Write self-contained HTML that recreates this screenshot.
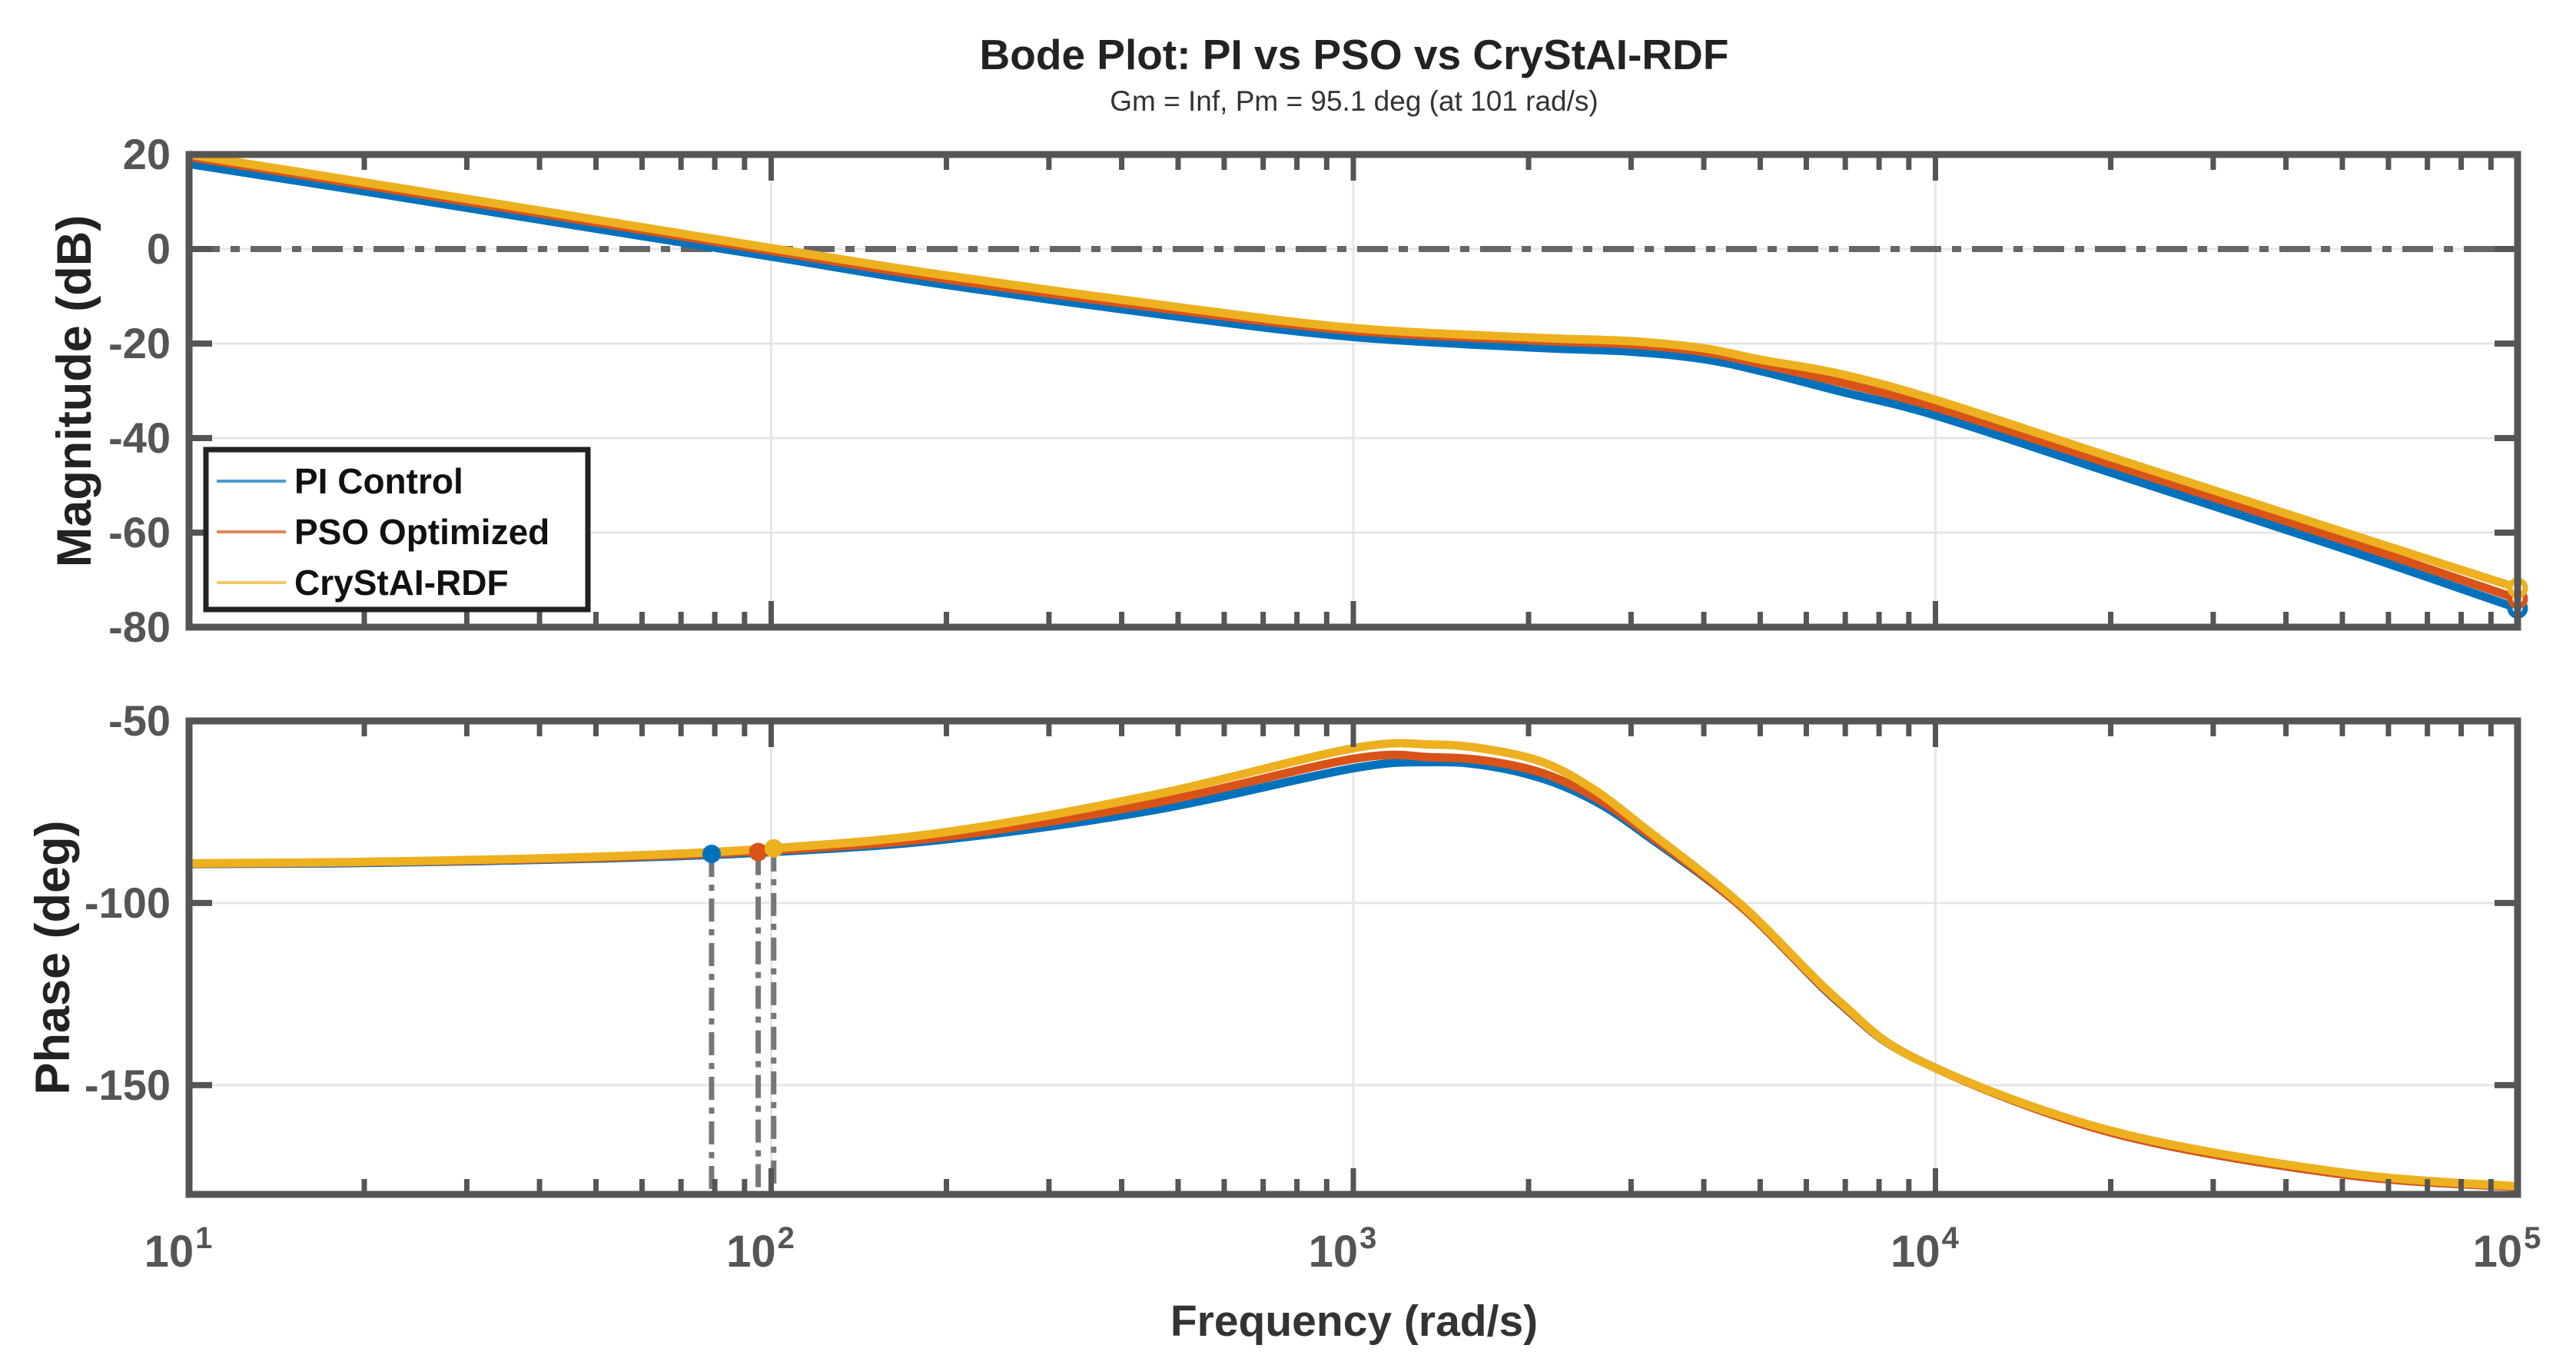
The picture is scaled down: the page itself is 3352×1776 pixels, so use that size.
<!DOCTYPE html>
<html><head><meta charset="utf-8">
<style>
html,body{margin:0;padding:0;background:#fff;}
svg{display:block;font-family:"Liberation Sans",sans-serif;}
.tk{font-family:"Liberation Sans Narrow","Liberation Sans",sans-serif;font-weight:bold;fill:#555;}
</style></head>
<body>
<svg id="chart" width="3352" height="1776" viewBox="0 0 3352 1776" xmlns="http://www.w3.org/2000/svg">
<rect width="3352" height="1776" fill="#fff"/>
<text x="1762" y="90" text-anchor="middle" font-size="55" font-weight="bold" fill="#222">Bode Plot: PI vs PSO vs CryStAI-RDF</text>
<text x="1762" y="144" text-anchor="middle" font-size="37" fill="#333">Gm = Inf,  Pm = 95.1 deg (at 101 rad/s)</text>
<g id="mag"></g>
<g id="phase"></g>
<text transform="translate(118,509) rotate(-90)" text-anchor="middle" font-size="63" font-weight="bold" fill="#222">Magnitude (dB)</text>
<text transform="translate(90,1246) rotate(-90)" text-anchor="middle" font-size="63" font-weight="bold" fill="#222">Phase (deg)</text>
<text x="1762" y="1738" text-anchor="middle" font-size="57" font-weight="bold" fill="#333">Frequency (rad/s)</text>
</svg>
<script>
const freqs = [10,20,50,100,200,500,1000,2000,3000,4000,5000,6900,10000,20000,50000,100000];
const magPI  = [18,12.2,4.3,-1.6,-7.6,-14.3,-18.6,-20.8,-21.7,-23.3,-25.8,-30.2,-35.2,-47.3,-63.3,-76];
const magPSO = [19.5,13.5,5.6,-0.4,-6.4,-13.0,-17.3,-19.3,-20.2,-21.8,-24.3,-28.3,-33.5,-45.5,-61.5,-74];
const magCRY = [20,14.1,6.2,0.2,-5.6,-12.3,-16.7,-18.7,-19.5,-21,-23.4,-26.5,-31.9,-44,-59.8,-71.7];
const phFreqs = [10,20,50,100,200,454,1000,1370,1700,2130,2600,3130,4640,6840,9460,20000,50000,100000];
const phPI  = [-89.3,-89,-87.8,-86,-82.5,-74.5,-63,-61.3,-62.3,-66,-72,-80.5,-101,-127.5,-143.5,-163,-174.5,-178];
const phPSO = [-89.2,-88.8,-87.6,-85.6,-81.8,-72.6,-60.4,-60,-61,-64.5,-71,-79.8,-101,-127.3,-143.5,-163,-174.5,-178];
const phCRY = [-89.1,-88.7,-87.3,-85,-80.5,-70.3,-57.5,-56.5,-57.8,-61.5,-69,-78.8,-100.5,-127,-143.5,-162.5,-174,-177.8];
const pmFreqs = [79,95,101];
const pmPhase = [-86.5,-86,-85];
const magTicks = [20,0,-20,-40,-60,-80];
const phTicks = [-50,-100,-150];
const xDecades = [1,2,3,4,5];
const seriesNames = ['PI Control','PSO Optimized','CryStAI-RDF'];
const colors = ['#0072BD','#D95319','#EDB120'];
const NS='http://www.w3.org/2000/svg';
const L=246,R=3276;
const X=f=>L+(Math.log10(f)-1)*(R-L)/4;
const magTop=201,magBot=816,phTop=938,phBot=1554;
const YM=v=>magTop+(20-v)*(magBot-magTop)/100;
const YP=v=>phTop+(-50-v)*(phBot-phTop)/130;
function mk(tag,attrs,parent){const e=document.createElementNS(NS,tag);for(const k in attrs)e.setAttribute(k,attrs[k]);parent.appendChild(e);return e;}
function smooth(pts){let d='M'+pts[0][0]+','+pts[0][1];for(let i=0;i<pts.length-1;i++){const p0=pts[i-1]||pts[i],p1=pts[i],p2=pts[i+1],p3=pts[i+2]||p2;const c1=[p1[0]+(p2[0]-p0[0])/6,p1[1]+(p2[1]-p0[1])/6],c2=[p2[0]-(p3[0]-p1[0])/6,p2[1]-(p3[1]-p1[1])/6];d+=' C'+c1+' '+c2+' '+p2;}return d;}
function axes(g,top,bot,ticks,Y){
  ticks.forEach(t=>{const y=Y(t);
    const gl=mk('line',{x1:L,x2:R,y1:y,y2:y,stroke:'#e6e6e6','stroke-width':3},g);
    
  });
  xDecades.forEach(k=>{const x=X(Math.pow(10,k));
    const gl=mk('line',{x1:x,x2:x,y1:top,y2:bot,stroke:'#e6e6e6','stroke-width':3},g);
    
  });
}
function frame(g,top,bot,ticks,Y,name){
  for(let k=1;k<5;k++)for(let m=1;m<10;m++){const x=X(m*Math.pow(10,k));const len=m===1?34:20;
    mk('line',{x1:x,x2:x,y1:top,y2:top+len,stroke:'#555','stroke-width':7},g);
    mk('line',{x1:x,x2:x,y1:bot,y2:bot-len,stroke:'#555','stroke-width':7},g);}
  ticks.forEach(t=>{const y=Y(t);
    mk('line',{x1:L,x2:L+30,y1:y,y2:y,stroke:'#555','stroke-width':8},g);
    mk('line',{x1:R,x2:R-30,y1:y,y2:y,stroke:'#555','stroke-width':8},g);
    const tx=mk('text',{x:222,y:y+19,'text-anchor':'end','font-size':56,class:'tk'},g);
    tx.textContent=t;
    
    
  });
  const r=mk('rect',{x:L,y:top,width:R-L,height:bot-top,fill:'none',stroke:'#555','stroke-width':9},g);
  
  
}
const gm=document.getElementById('mag');

axes(gm,magTop,magBot,magTicks,YM);
const zl=mk('line',{x1:L,x2:R,y1:YM(0),y2:YM(0),stroke:'#666','stroke-width':8,'stroke-dasharray':'40 14 12 14'},gm);

[magPI,magPSO,magCRY].forEach((s,i)=>{
  const p=mk('path',{d:smooth(freqs.map((f,j)=>[X(f),YM(s[j])])),fill:'none',stroke:colors[i],'stroke-width':11,'stroke-linejoin':'round'},gm);
  
  const c=mk('circle',{cx:X(freqs[freqs.length-1]),cy:YM(s[s.length-1]),r:10,fill:'#fff',stroke:colors[i],'stroke-width':7},gm);
  
});
frame(gm,magTop,magBot,magTicks,YM,'magnitude');
const gp=document.getElementById('phase');

axes(gp,phTop,phBot,phTicks,YP);
pmFreqs.forEach((f,i)=>{
  const v=mk('line',{x1:X(f),x2:X(f),y1:YP(pmPhase[i]),y2:phBot,stroke:'#777','stroke-width':7,'stroke-dasharray':'30 10 8 10'},gp);
  
});
[phPI,phPSO,phCRY].forEach((s,i)=>{
  const p=mk('path',{d:smooth(phFreqs.map((f,j)=>[X(f),YP(s[j])])),fill:'none',stroke:colors[i],'stroke-width':11,'stroke-linejoin':'round'},gp);
  
});
pmFreqs.forEach((f,i)=>{
  const c=mk('circle',{cx:X(f),cy:YP(pmPhase[i]),r:12,fill:colors[i]},gp);
  
});
frame(gp,phTop,phBot,phTicks,YP,'phase');
xDecades.forEach(k=>{
  const t=mk('text',{x:X(Math.pow(10,k))-14,y:1648,'text-anchor':'middle','font-size':58,class:'tk'},gp);
  
  t.textContent='10';
  const s=mk('tspan',{'font-size':40,dy:-24,dx:2},t);s.textContent=k;
});
const lg=mk('g',{},gm);

mk('rect',{x:268,y:585,width:497,height:208,fill:'#fff',stroke:'#222','stroke-width':7},lg);
seriesNames.forEach((n,i)=>{const y=626+i*66;
  const ln=mk('line',{x1:282,x2:372,y1:y,y2:y,stroke:colors[i],'stroke-width':4,opacity:0.7},lg);
  
  const t=mk('text',{x:383,y:y+16,'font-size':46,'font-weight':'bold',fill:'#111'},lg);
  
  t.textContent=n;
});
</script>
</body></html>
